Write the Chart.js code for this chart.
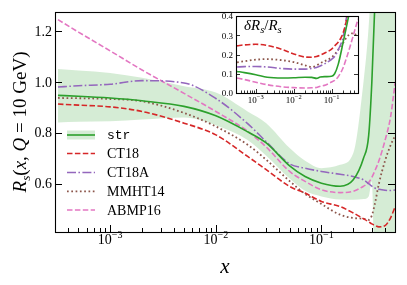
<!DOCTYPE html>
<html lang="en">
<head>
<meta charset="UTF-8">
<title>R_s(x, Q = 10 GeV)</title>
<script src="https://cdn.jsdelivr.net/npm/chart.js"></script>
<style>
  html, body { margin: 0; padding: 0; background: #fff; }
  #wrap { position: relative; width: 407px; height: 285px; }
  #main { position: absolute; left: 0; top: 0; }
  #inset { position: absolute; left: 200px; top: 0; }
</style>
</head>
<body>
<div id="wrap">
  <canvas id="main" width="407" height="285"></canvas>
  <canvas id="inset" width="170" height="112"></canvas>
</div>
<script>
// ---- data ----
const xs = [3.2e-4, 5e-4, 1e-3, 2e-3, 5e-3, 1e-2, 2e-2, 3e-2, 5e-2, 7e-2, 0.1, 0.15, 0.2, 0.25, 0.28, 0.3, 0.32, 0.35, 0.4, 0.45, 0.5];

const strMid = [0.947, 0.944, 0.937, 0.926, 0.904, 0.867, 0.804, 0.76, 0.67, 0.628, 0.602, 0.59, 0.615, 0.70, 0.79, 1.0, 1.3, 1.8, 2.6, 3.4, 4.2];
const strHi  = [1.051, 1.045, 1.035, 1.016, 0.983, 0.958, 0.884, 0.838, 0.74, 0.69, 0.661, 0.674, 0.72, 1.0, 1.22, 1.45, 1.8, 2.3, 3.0, 3.6, 4.2];
const strLo  = [0.841, 0.843, 0.845, 0.852, 0.86, 0.83, 0.772, 0.71, 0.62, 0.572, 0.55, 0.538, 0.537, 0.54, 0.55, 0.61, 0.2, -0.1, -0.5, -0.9, -1.3];
const ct18   = [0.913, 0.909, 0.902, 0.884, 0.838, 0.792, 0.707, 0.655, 0.589, 0.563, 0.53, 0.51, 0.485, 0.462, 0.45, 0.442, 0.436, 0.43, 0.435, 0.465, 0.51];
const ct18a  = [0.98, 0.985, 0.991, 1.005, 0.996, 0.935, 0.836, 0.765, 0.678, 0.661, 0.648, 0.637, 0.628, 0.615, 0.60, 0.59, 0.583, 0.578, 0.574, 0.573, 0.575];
const mmht14 = [0.937, 0.936, 0.933, 0.924, 0.878, 0.825, 0.753, 0.694, 0.61, 0.56, 0.52, 0.478, 0.465, 0.462, 0.458, 0.475, 0.52, 0.6, 0.69, 0.75, 0.79];
const abmp16 = [1.245, 1.196, 1.122, 1.047, 0.955, 0.884, 0.806, 0.744, 0.648, 0.609, 0.576, 0.565, 0.57, 0.59, 0.605, 0.625, 0.65, 0.69, 0.77, 0.86, 1.0];

// inset: relative uncertainty dR_s/R_s
const insetXs = [3.2e-4, 5e-4, 1e-3, 2e-3, 5e-3, 1e-2, 2e-2, 3e-2, 4e-2, 5e-2, 7e-2, 0.1, 0.12, 0.15, 0.2, 0.25, 0.3, 0.35, 0.4, 0.45, 0.5];
const dStr    = [0.112, 0.106, 0.095, 0.082, 0.078, 0.079, 0.082, 0.081, 0.076, 0.083, 0.085, 0.087, 0.10, 0.15, 0.26, 0.35, 0.43, 0.52, 0.6, 0.7, 0.8];
const dCt18   = [0.245, 0.25, 0.253, 0.247, 0.226, 0.203, 0.187, 0.186, 0.19, 0.197, 0.21, 0.228, 0.245, 0.265, 0.31, 0.385, 0.5, 0.6, 0.7, 0.8, 0.9];
const dCt18a  = [0.135, 0.137, 0.138, 0.135, 0.127, 0.124, 0.124, 0.128, 0.133, 0.14, 0.155, 0.175, 0.19, 0.225, 0.29, 0.40, 0.52, 0.62, 0.72, 0.82, 0.92];
const dMmht14 = [0.159, 0.165, 0.173, 0.176, 0.17, 0.161, 0.144, 0.135, 0.143, 0.155, 0.168, 0.185, 0.20, 0.225, 0.26, 0.29, 0.305, 0.31, 0.31, 0.30, 0.31];
const dAbmp16 = [0.078, 0.07, 0.056, 0.043, 0.032, 0.028, 0.026, 0.027, 0.029, 0.035, 0.042, 0.057, 0.065, 0.085, 0.13, 0.185, 0.235, 0.28, 0.32, 0.355, 0.385];

// axis ticks
const xTickExps = [-3, -2, -1];
const yTicks = [0.6, 0.8, 1.0, 1.2];
const yTickLabels = ['0.6', '0.8', '1.0', '1.2'];
const insetYTicks = [0, 0.1, 0.2, 0.3, 0.4];
const insetYTickLabels = ['0.0', '0.1', '0.2', '0.3', '0.4'];

const X_MIN = Math.pow(10, -3.5), X_MAX = 0.497;

const SERIF = '"Liberation Serif", "DejaVu Serif", serif';
const MONO = '"Liberation Mono", "DejaVu Sans Mono", monospace';

const GREEN = '#2ca02c', RED = '#d62728', PURPLE = '#9467bd', BROWN = '#8c564b', PINK = '#e377c2';
const DASHED = [5.5, 2.4], DASHDOT = [9, 2.4, 1.6, 2.4], DOTTED = [1.7, 2.6];

function pts(xv, yv) {
    return xv.map((x, i) => ({ x: x, y: yv[i] }));
}

function lineSet(label, xv, yv, color, dash) {
    return {
        label: label, data: pts(xv, yv),
        borderColor: color, borderWidth: dash === DOTTED ? 1.8 : 1.6, borderDash: dash,
        pointRadius: 0, fill: false, cubicInterpolationMode: 'monotone', clip: 0
    };
}

function bandSet(yv, fill) {
    return {
        label: '', data: pts(xs, yv),
        borderColor: 'rgba(0,0,0,0)', borderWidth: 0, pointRadius: 0,
        fill: fill, backgroundColor: 'rgba(44,160,44,0.2)',
        cubicInterpolationMode: 'monotone', clip: 0, order: 10
    };
}

// draw "10" with a raised exponent, centred at px
function drawPow10(ctx, px, baseY, exp, size) {
    const base = '10', sup = '\u2212' + Math.abs(exp);
    ctx.font = size + 'px ' + SERIF;
    const w1 = ctx.measureText(base).width;
    ctx.font = (size * 0.72) + 'px ' + SERIF;
    const w2 = ctx.measureText(sup).width;
    let x0 = px - (w1 + w2) / 2;
    ctx.textAlign = 'left';
    ctx.textBaseline = 'alphabetic';
    ctx.font = size + 'px ' + SERIF;
    ctx.fillText(base, x0, baseY);
    ctx.font = (size * 0.72) + 'px ' + SERIF;
    ctx.fillText(sup, x0 + w1, baseY - size * 0.42);
}

// text runs with italic / subscript pieces, drawn left to right from x
function drawRuns(ctx, runs, x, y, size) {
    let cx = x;
    runs.forEach(r => {
        const s = r.sub ? size * 0.7 : size;
        ctx.font = (r.it ? 'italic ' : '') + s + 'px ' + SERIF;
        ctx.fillText(r.t, cx, y + (r.sub ? size * 0.22 : 0));
        cx += ctx.measureText(r.t).width;
    });
    return cx - x;
}
function runsWidth(ctx, runs, size) {
    let w = 0;
    runs.forEach(r => {
        const s = r.sub ? size * 0.7 : size;
        ctx.font = (r.it ? 'italic ' : '') + s + 'px ' + SERIF;
        w += ctx.measureText(r.t).width;
    });
    return w;
}

// matplotlib-like frame with inward ticks
function axesPlugin(cfg) {
    return {
        id: 'axes_' + cfg.name,
        beforeDatasetsDraw(chart) {
            if (!cfg.whiteBg) return;
            const a = chart.chartArea, ctx = chart.ctx;
            ctx.save();
            ctx.fillStyle = '#fff';
            ctx.fillRect(a.left, a.top, a.right - a.left, a.bottom - a.top);
            ctx.restore();
        },
        afterDatasetsDraw(chart) {
            const a = chart.chartArea, ctx = chart.ctx;
            const sx = chart.scales.x, sy = chart.scales.y;
            ctx.save();
            ctx.strokeStyle = '#000';
            ctx.lineWidth = cfg.tickWidth;
            ctx.beginPath();
            for (let e = -4; e <= 0; e++) {
                for (let k = 1; k <= 9; k++) {
                    const v = k * Math.pow(10, e);
                    if (v < sx.min || v > sx.max) continue;
                    const px = Math.round(sx.getPixelForValue(v)) + 0.5;
                    const len = k === 1 ? cfg.major : cfg.minor;
                    ctx.moveTo(px, a.bottom); ctx.lineTo(px, a.bottom - len);
                }
            }
            cfg.yTicks.forEach(v => {
                const py = Math.round(sy.getPixelForValue(v)) + 0.5;
                ctx.moveTo(a.left, py); ctx.lineTo(a.left + cfg.major, py);
                ctx.moveTo(a.right, py); ctx.lineTo(a.right - cfg.major, py);
            });
            ctx.stroke();
            ctx.lineWidth = cfg.frameWidth;
            ctx.strokeRect(a.left + 0.5, a.top + 0.5, a.right - a.left, a.bottom - a.top);

            ctx.fillStyle = '#000';
            ctx.textAlign = 'right';
            ctx.textBaseline = 'middle';
            ctx.font = cfg.fontSize + 'px ' + SERIF;
            cfg.yTicks.forEach((v, i) => {
                ctx.fillText(cfg.yLabels[i], a.left - cfg.yPad, sy.getPixelForValue(v) + 1);
            });
            xTickExps.forEach(e => {
                drawPow10(ctx, sx.getPixelForValue(Math.pow(10, e)), a.bottom + cfg.xPad, e, cfg.fontSize);
            });
            if (cfg.extra) cfg.extra(chart, ctx);
            ctx.restore();
        }
    };
}

const mainDatasets = [
    bandSet(strLo, false),
    bandSet(strHi, '-1'),
    lineSet('str', xs, strMid, GREEN, []),
    lineSet('CT18', xs, ct18, RED, DASHED),
    lineSet('CT18A', xs, ct18a, PURPLE, DASHDOT),
    lineSet('MMHT14', xs, mmht14, BROWN, DOTTED),
    lineSet('ABMP16', xs, abmp16, PINK, DASHED)
];

function mainExtra(chart, ctx) {
    const a = chart.chartArea;
    // axis titles
    ctx.textAlign = 'center';
    ctx.textBaseline = 'alphabetic';
    ctx.font = 'italic 21px ' + SERIF;
    ctx.fillText('x', (a.left + a.right) / 2, 273);

    const yRuns = [
        { t: 'R', it: true }, { t: 's', it: true, sub: true }, { t: '(' },
        { t: 'x', it: true }, { t: ', ' }, { t: 'Q', it: true }, { t: ' = 10 GeV)' }
    ];
    ctx.save();
    ctx.translate(26, (a.top + a.bottom) / 2);
    ctx.rotate(-Math.PI / 2);
    ctx.textAlign = 'left';
    const w = runsWidth(ctx, yRuns, 19);
    drawRuns(ctx, yRuns, -w / 2, 0, 19);
    ctx.restore();

    // legend
    const rowY = [135, 153.5, 172.5, 191.3, 210];
    const lines = chart.data.datasets.filter(d => d.label);
    lines.forEach((d, i) => {
        const y = rowY[i];
        if (d.label === 'str') {
            ctx.fillStyle = 'rgba(44,160,44,0.2)';
            ctx.fillRect(67, y - 4.5, 28, 9);
        }
        ctx.strokeStyle = d.borderColor;
        ctx.lineWidth = d.borderWidth;
        ctx.setLineDash(d.borderDash);
        ctx.beginPath();
        ctx.moveTo(67, y); ctx.lineTo(95, y);
        ctx.stroke();
        ctx.setLineDash([]);
        ctx.fillStyle = '#000';
        ctx.textAlign = 'left';
        ctx.textBaseline = 'middle';
        ctx.font = d.label === 'str' ? '13px ' + MONO : '14px ' + SERIF;
        ctx.fillText(d.label, 107, y + 1);
    });
}

new Chart(document.getElementById('main'), {
    type: 'line',
    data: { datasets: mainDatasets },
    options: {
        responsive: false, animation: false, devicePixelRatio: 1,
        layout: { padding: { left: 0, right: 12, top: 12, bottom: 0 } },
        plugins: { legend: { display: false }, tooltip: { enabled: false } },
        scales: {
            x: {
                type: 'logarithmic', min: X_MIN, max: X_MAX,
                grid: { display: false }, border: { display: false }, ticks: { display: false },
                afterFit: s => { s.height = 53; }
            },
            y: {
                type: 'linear', min: 0.41, max: 1.275,
                grid: { display: false }, border: { display: false }, ticks: { display: false },
                afterFit: s => { s.width = 55; }
            }
        }
    },
    plugins: [axesPlugin({
        name: 'main', whiteBg: false, tickWidth: 1, frameWidth: 1.1,
        major: 7, minor: 4, fontSize: 14, yPad: 3, xPad: 12,
        yTicks: yTicks, yLabels: yTickLabels, extra: mainExtra
    })]
});

function insetExtra(chart, ctx) {
    const a = chart.chartArea;
    const runs = [
        { t: '\u03b4R', it: true }, { t: 's', it: true, sub: true },
        { t: '/' }, { t: 'R', it: true }, { t: 's', it: true, sub: true }
    ];
    ctx.textAlign = 'left';
    ctx.textBaseline = 'alphabetic';
    drawRuns(ctx, runs, a.left + 8, a.top + 14, 15);
}

new Chart(document.getElementById('inset'), {
    type: 'line',
    data: {
        datasets: [
            lineSet('str', insetXs, dStr, GREEN, []),
            lineSet('CT18', insetXs, dCt18, RED, DASHED),
            lineSet('CT18A', insetXs, dCt18a, PURPLE, DASHDOT),
            lineSet('MMHT14', insetXs, dMmht14, BROWN, DOTTED),
            lineSet('ABMP16', insetXs, dAbmp16, PINK, DASHED)
        ]
    },
    options: {
        responsive: false, animation: false, devicePixelRatio: 1,
        layout: { padding: { left: 0, right: 12, top: 16, bottom: 0 } },
        plugins: { legend: { display: false }, tooltip: { enabled: false } },
        scales: {
            x: {
                type: 'logarithmic', min: X_MIN, max: X_MAX,
                grid: { display: false }, border: { display: false }, ticks: { display: false },
                afterFit: s => { s.height = 19; }
            },
            y: {
                type: 'linear', min: 0, max: 0.4,
                grid: { display: false }, border: { display: false }, ticks: { display: false },
                afterFit: s => { s.width = 36; }
            }
        }
    },
    plugins: [axesPlugin({
        name: 'inset', whiteBg: true, tickWidth: 0.8, frameWidth: 1.1,
        major: 4, minor: 2.5, fontSize: 9, yPad: 3, xPad: 10,
        yTicks: insetYTicks, yLabels: insetYTickLabels, extra: insetExtra
    })]
});
</script>
</body>
</html>
